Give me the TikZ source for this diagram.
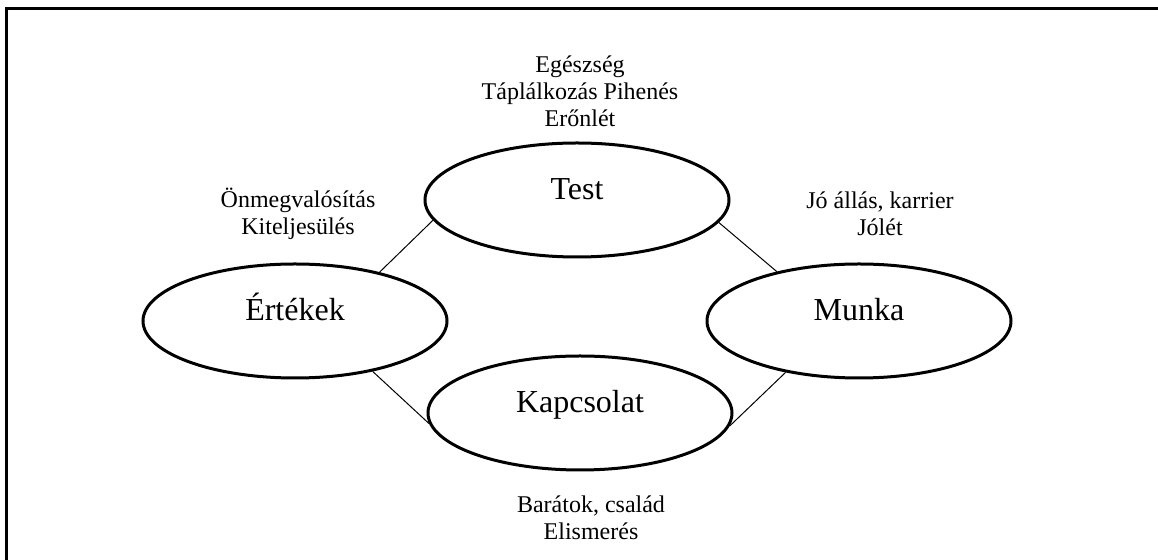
\documentclass[tikz,border=0pt]{standalone}
\usepackage{fontspec}
\setmainfont{Liberation Serif}
\usetikzlibrary{shapes.geometric}

\begin{document}
\begin{tikzpicture}[x=0.5pt, y=-0.5pt,
	area/.style={draw, ellipse, line width=1.5pt, inner sep=0, minimum width=152pt, minimum height=57pt, font=\fontsize{16}{19}\selectfont, text height=2ex, text depth=2ex},
	info/.style={align=center, inner sep=0, font=\fontsize{12}{13.4}\selectfont},
	link/.style={line width=0.5pt}]
	\useasboundingbox (0, 0) rectangle (1158, 560);
	\draw[line width=1.5pt] (6.5, 560) -- (6.5, 9) -- (1158, 9);

	\node[area] (test) at (577, 200) {Test};
	\node[area] (ertekek) at (295, 321) {Értékek};
	\node[area] (munka) at (859, 321) {Munka};
	\node[area] (kapcsolat) at (580, 413) {Kapcsolat};

	\node[info] (testinfo) at (580, 91) {Egészség\\Táplálkozás Pihenés\\Erőnlét};
	\node[info] (ertekinfo) at (298, 214) {Önmegvalósítás\\Kiteljesülés};
	\node[info] (munkainfo) at (880, 214) {Jó állás, karrier\\Jólét};
	\node[info] (kapcsinfo) at (591, 518) {Barátok, család\\Elismerés};

	\draw[link] (test.188) -- (ertekek.30);
	\draw[link] (test.351) -- (munka.149);
	\draw[link] (ertekek.327) -- (kapcsolat.184);
	\draw[link] (munka.215) -- (kapcsolat.355);
\end{tikzpicture}
\end{document}
